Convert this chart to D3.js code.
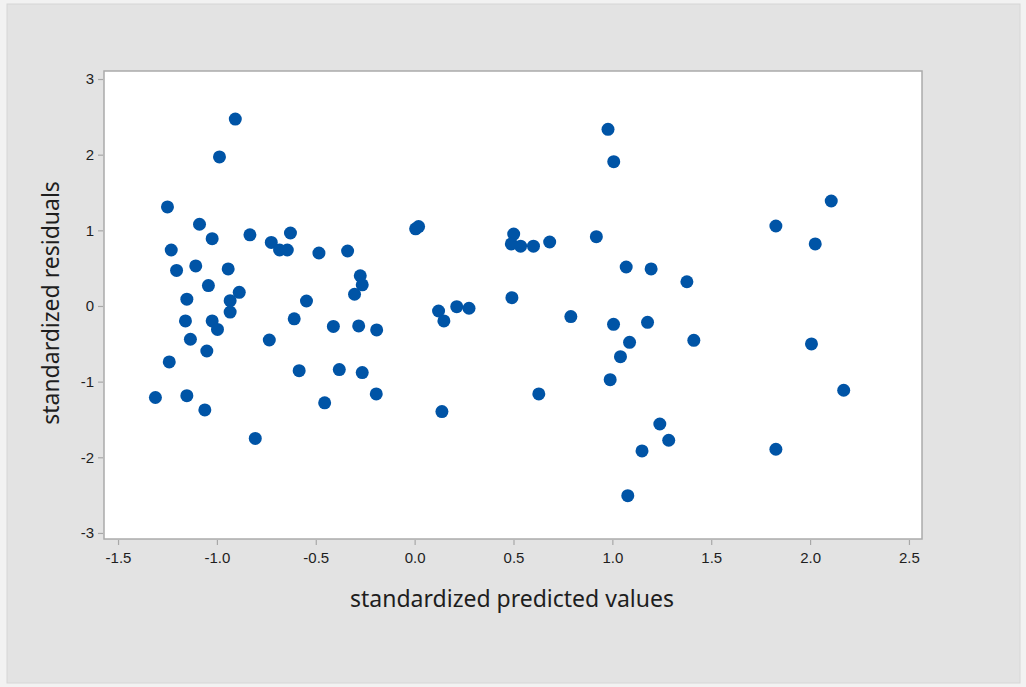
<!DOCTYPE html>
<html>
<head>
<meta charset="utf-8">
<script src="https://cdn.jsdelivr.net/npm/d3@7"></script>
<style>
  body { margin: 0; background: #f2f2f2; }
  svg { display: block; font-family: "Noto Sans", "Open Sans", sans-serif; }
</style>
</head>
<body>
<svg></svg>
<script>
// standardized predicted values (x) and standardized residuals (y)
var predicted = [-0.907, -0.987, -1.25, -1.088, -1.024, -0.833, -0.725, -0.683, -0.644, -0.628,
                 -0.484, -1.231, -1.204, -1.107, -0.943, -1.043, -0.887, -0.933, -0.933, -1.152,
                 -0.547, -1.159, -1.024, -0.997, -0.609, -0.411, -1.134, -0.735, -1.051, -1.241,
                 -0.584, -0.381, -1.311, -1.152, -1.061, -0.455, -0.806, -0.339, 0.005, 0.02,
                 -0.275, -0.265, -0.304, -0.283, -0.192, -0.265, -0.194, 0.501, 0.489, 0.536,
                 0.601, 0.683, 0.919, 0.121, 0.148, 0.213, 0.275, 0.492, 0.79, 0.628,
                 0.138, 0.978, 1.007, 1.07, 1.196, 1.377, 1.006, 1.178, 1.087, 1.412,
                 1.041, 0.989, 1.24, 1.285, 1.15, 1.078, 2.107, 1.827, 2.026, 2.007,
                 2.17, 1.827];
var residuals = [2.47, 1.97, 1.31, 1.08, 0.89, 0.94, 0.84, 0.74, 0.74, 0.965,
                 0.70, 0.74, 0.47, 0.53, 0.49, 0.27, 0.18, 0.07, -0.08, 0.09,
                 0.066, -0.198, -0.198, -0.31, -0.17, -0.27, -0.44, -0.45, -0.595, -0.74,
                 -0.855, -0.84, -1.21, -1.185, -1.374, -1.28, -1.75, 0.727, 1.02, 1.05,
                 0.40, 0.28, 0.155, -0.264, -0.317, -0.88, -1.163, 0.95, 0.82, 0.79,
                 0.79, 0.846, 0.916, -0.066, -0.198, -0.009, -0.03, 0.11, -0.14, -1.163,
                 -1.396, 2.335, 1.907, 0.515, 0.49, 0.32, -0.243, -0.216, -0.48, -0.454,
                 -0.67, -0.974, -1.56, -1.775, -1.916, -2.507, 1.388, 1.057, 0.82, -0.502,
                 -1.114, -1.894];
var xTicks = [-1.5, -1.0, -0.5, 0.0, 0.5, 1.0, 1.5, 2.0, 2.5];
var yTicks = [-3, -2, -1, 0, 1, 2, 3];

var svgWidth = 1026;
var svgHeight = 687;
var plot = {left: 104, top: 71, right: 922, bottom: 539};

var svg = d3.select("svg")
   .attr("width", svgWidth)
   .attr("height", svgHeight);

// gray panel
svg.append("rect")
   .attr("x", 7).attr("y", 4)
   .attr("width", 1013).attr("height", 679)
   .attr("fill", "#e3e3e3")
   .attr("stroke", "#d6d6d6");

var x = d3.scaleLinear().domain([-1.571, 2.566]).range([plot.left, plot.right]);
var y = d3.scaleLinear().domain([-3.08, 3.106]).range([plot.bottom, plot.top]);

svg.append("rect")
   .attr("x", plot.left).attr("y", plot.top)
   .attr("width", plot.right - plot.left)
   .attr("height", plot.bottom - plot.top)
   .attr("fill", "#ffffff")
   .attr("stroke", "#ababab")
   .attr("stroke-width", 1.5);

// plain hyphen for negatives, like the original
var fmtX = function(d) { return d.toFixed(1); };
var fmtY = function(d) { return String(d); };

var xAxis = svg.append("g")
   .attr("transform", "translate(0," + (plot.bottom + 1) + ")")
   .call(d3.axisBottom(x).tickValues(xTicks).tickFormat(fmtX).tickSizeOuter(0).tickSize(5).tickPadding(7));

var yAxis = svg.append("g")
   .attr("transform", "translate(" + (plot.left - 1) + ",0)")
   .call(d3.axisLeft(y).tickValues(yTicks).tickFormat(fmtY).tickSizeOuter(0).tickSize(5).tickPadding(4));

[xAxis, yAxis].forEach(function(g) {
  g.select(".domain").remove();
  g.selectAll(".tick line").attr("stroke", "#a8a8a8").attr("stroke-width", 1.2);
  g.selectAll(".tick text").attr("fill", "#1e1e1e").style("font-size", "15px");
});

svg.append("g")
   .selectAll("circle")
   .data(predicted)
   .enter()
   .append("circle")
   .attr("cx", function(d) { return x(d); })
   .attr("cy", function(d, i) { return y(residuals[i]); })
   .attr("r", 6.5)
   .attr("fill", "#0054a6");

svg.append("text")
   .attr("x", 512).attr("y", 607)
   .attr("text-anchor", "middle")
   .attr("fill", "#1e1e1e")
   .style("font-size", "23px")
   .text("standardized predicted values");

svg.append("text")
   .attr("transform", "translate(59,303) rotate(-90)")
   .attr("text-anchor", "middle")
   .attr("fill", "#1e1e1e")
   .style("font-size", "23px")
   .text("standardized residuals");
</script>
</body>
</html>
